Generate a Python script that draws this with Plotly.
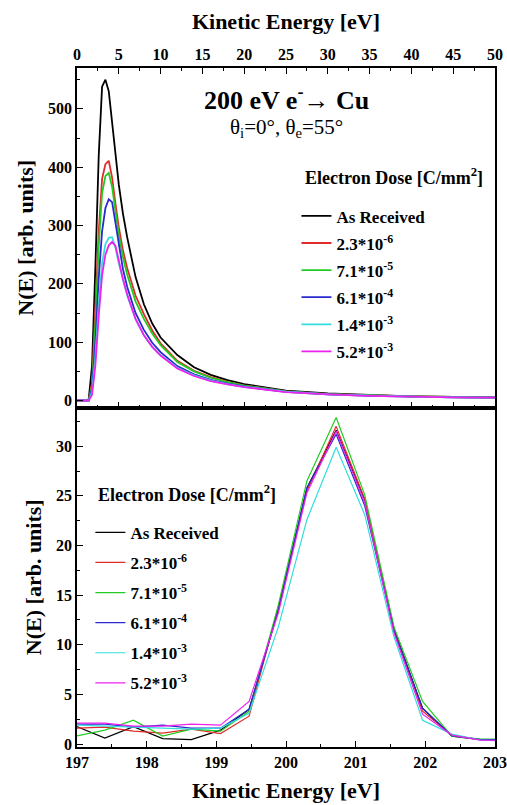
import plotly.graph_objects as go

# ---------------- data: top panel (secondary electron spectrum) ----------------
E_top = [0, 0.5, 1.0, 1.4, 1.8, 2.2, 2.6, 3.0, 3.4, 3.8, 4.2, 4.6, 5.0, 5.5, 6, 7, 8, 9, 10,
         12, 14, 16, 18, 20, 25, 30, 35, 40, 45, 50]
top_black = [0, 0, 0, 2, 60, 230, 420, 538, 550, 530, 480, 420, 370, 320, 280, 212, 165, 132, 108,
             78, 57, 44, 35, 28, 17, 12, 9, 7, 6, 5.5]
top_red = [0, 0, 0, 0, 30, 150, 290, 380, 405, 411, 382, 337, 297, 257, 227, 180, 148, 120, 98,
           68, 51, 40, 32, 26, 15.5, 11, 8.5, 7, 6, 5]
top_green = [0, 0, 0, 0, 25, 130, 265, 355, 385, 390, 366, 323, 284, 246, 216, 170, 140, 115, 95,
             66, 50, 39, 31.5, 25.5, 15.5, 11, 8.5, 7, 6, 5]
top_blue = [0, 0, 0, 0, 20, 100, 210, 290, 330, 345, 340, 305, 265, 225, 195, 150, 121, 99, 83,
            59, 45, 35.5, 29, 24, 15, 10.5, 8, 6.5, 5.5, 5]
top_cyan = [0, 0, 0, 0, 15, 75, 165, 235, 268, 279, 280, 262, 235, 205, 180, 140, 112, 92, 78,
            56, 43, 34, 28, 23.5, 15, 10.5, 8, 6.5, 5.5, 5]
top_magenta = [0, 0, 0, 0, 10, 60, 145, 215, 250, 266, 272, 265, 240, 208, 182, 140, 112, 92, 77,
               55, 42, 33, 27.5, 23, 14.5, 10.5, 8, 6.5, 5.5, 5]

# ---------------- data: bottom panel (elastic peak) ----------------
E_bot = [196.98, 197.40, 197.81, 198.23, 198.64, 199.06, 199.47, 199.89, 200.30, 200.72,
         201.13, 201.55, 201.96, 202.38, 202.79, 203.21]
bot_black = [1.8, 0.6, 1.75, 0.55, 0.45, 1.4, 3.5, 13.5, 25.8, 31.6, 24.6, 11.6, 3.6, 0.8, 0.45, 0.45]
bot_red = [1.6, 1.7, 1.3, 1.1, 1.5, 1.05, 2.8, 13.8, 25.5, 32.0, 24.7, 11.5, 3.3, 0.9, 0.45, 0.4]
bot_green = [0.8, 1.4, 2.4, 0.8, 1.5, 1.3, 3.3, 14.0, 26.5, 32.9, 25.1, 11.8, 4.3, 0.8, 0.5, 0.5]
bot_blue = [2.0, 2.0, 1.7, 1.9, 1.6, 1.6, 3.5, 13.5, 25.8, 31.2, 24.0, 11.4, 3.6, 0.85, 0.45, 0.45]
bot_cyan = [1.9, 1.8, 1.7, 1.6, 1.5, 1.6, 3.1, 11.8, 22.6, 29.9, 23.1, 10.8, 2.4, 1.0, 0.4, 0.3]
bot_magenta = [2.1, 2.1, 1.8, 1.8, 2.0, 1.9, 4.3, 13.2, 25.3, 31.5, 24.3, 11.2, 3.0, 0.9, 0.4, 0.35]

series_names = ["As Received", "2.3*10<sup>-6</sup>", "7.1*10<sup>-5</sup>",
                "6.1*10<sup>-4</sup>", "1.4*10<sup>-3</sup>", "5.2*10<sup>-3</sup>"]
legend_title = "Electron Dose [C/mm<sup>2</sup>]"
colors = ["#000000", "#e22b2b", "#22cc22", "#2a2ad0", "#33dddd", "#ee22ee"]

top_series = [top_black, top_red, top_green, top_blue, top_cyan, top_magenta]
bot_series = [bot_black, bot_red, bot_green, bot_blue, bot_cyan, bot_magenta]

FONT = "Liberation Serif, Times New Roman, Times, serif"

fig = go.Figure()
for i, (name, col, ys) in enumerate(zip(series_names, colors, top_series)):
    fig.add_trace(go.Scatter(x=E_top, y=ys, mode="lines", name=name,
                             line=dict(color=col, width=1.8),
                             xaxis="x", yaxis="y", legend="legend",
                             legendgroup="t%d" % i))
for i, (name, col, ys) in enumerate(zip(series_names, colors, bot_series)):
    fig.add_trace(go.Scatter(x=E_bot, y=ys, mode="lines", name=name,
                             line=dict(color=col, width=1.2),
                             xaxis="x2", yaxis="y2", legend="legend2",
                             legendgroup="b%d" % i))

tickfont = dict(family=FONT, size=16, color="black", weight="bold")
titlefont = dict(family=FONT, size=22, color="black", weight="bold")
legfont = dict(family=FONT, size=17, color="black", weight="bold")
legtitlefont = dict(family=FONT, size=18, color="black", weight="bold")

axis_common = dict(showline=True, linecolor="black", linewidth=1.5, showgrid=False,
                   zeroline=False, ticks="inside", ticklen=6, tickwidth=1.3,
                   tickcolor="black", tickfont=tickfont, automargin=False)

fig.update_layout(
    width=507, height=805,
    margin=dict(l=77, r=12, t=68, b=58),
    paper_bgcolor="white", plot_bgcolor="white",
    showlegend=True,
    xaxis=dict(axis_common, domain=[0, 1], anchor="y", side="top", range=[0, 50],
               dtick=5, tick0=0, mirror="ticks",
               minor=dict(dtick=2.5, ticks="inside", ticklen=3, tickcolor="black", tickwidth=1.1),
               title=dict(text="Kinetic Energy [eV]", font=titlefont, standoff=10)),
    yaxis=dict(axis_common, domain=[0.5, 1], anchor="x", range=[-12, 570], dtick=100,
               tick0=0, mirror=True,
               minor=dict(dtick=50, ticks="inside", ticklen=3, tickcolor="black", tickwidth=1.1),
               title=dict(text="N(E) [arb. units]", font=titlefont, standoff=8)),
    xaxis2=dict(axis_common, domain=[0, 1], anchor="y2", range=[197, 203], dtick=1,
                tick0=197, mirror=True,
                minor=dict(dtick=0.5, ticks="inside", ticklen=3, tickcolor="black", tickwidth=1.1),
                title=dict(text="Kinetic Energy [eV]", font=titlefont, standoff=13)),
    yaxis2=dict(axis_common, domain=[0, 0.5], anchor="x2", range=[-0.3, 33.9], dtick=5,
                tick0=0, mirror=True,
                minor=dict(dtick=2.5, ticks="inside", ticklen=3, tickcolor="black", tickwidth=1.1),
                title=dict(text="N(E) [arb. units]", font=titlefont, standoff=8)),
    legend=dict(x=0.525, y=0.808, xanchor="left", yanchor="top",
                bgcolor="rgba(0,0,0,0)", borderwidth=0, font=legfont,
                tracegroupgap=2, itemwidth=30),
    legend2=dict(x=0.032, y=0.342, xanchor="left", yanchor="top",
                 bgcolor="rgba(0,0,0,0)", borderwidth=0, font=legfont,
                 tracegroupgap=5, itemwidth=30),
    annotations=[
        dict(text="200 eV e<sup>-</sup>\u2192 Cu", xref="paper", yref="paper",
             x=0.50, y=0.955, xanchor="center", yanchor="middle", showarrow=False,
             font=dict(family=FONT, size=26, color="black", weight="bold")),
        dict(text="\u03b8<sub>i</sub>=0\u00b0, \u03b8<sub>e</sub>=55\u00b0", xref="paper", yref="paper",
             x=0.50, y=0.912, xanchor="center", yanchor="middle", showarrow=False,
             font=dict(family=FONT, size=21, color="black")),
        dict(text=legend_title, xref="paper", yref="paper",
             x=0.541, y=0.840, xanchor="left", yanchor="middle", showarrow=False,
             font=legtitlefont),
        dict(text=legend_title, xref="paper", yref="paper",
             x=0.046, y=0.373, xanchor="left", yanchor="middle", showarrow=False,
             font=legtitlefont),
    ],
)

fig.write_html("out.html", config={"displayModeBar": False},
               post_script="document.body.style.margin='0';document.body.style.overflow='hidden';")
